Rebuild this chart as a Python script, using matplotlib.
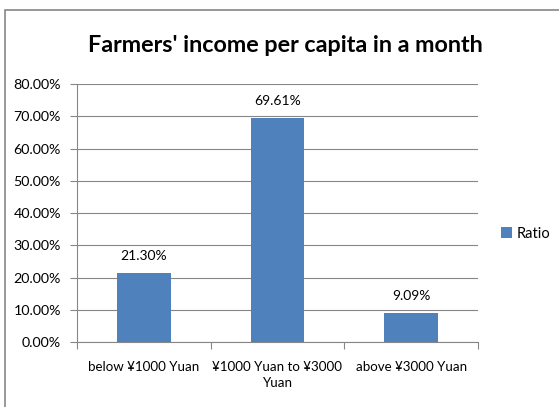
import matplotlib
matplotlib.use('Agg')
import matplotlib.pyplot as plt
from matplotlib.patches import Rectangle
from matplotlib.ticker import FuncFormatter, MultipleLocator

categories = ['below \u00a51000 Yuan', '\u00a51000 Yuan to \u00a53000\nYuan', 'above \u00a53000 Yuan']
ratio = [21.30, 69.61, 9.09]
series_name = 'Ratio'

plt.rcParams['font.family'] = ['Lato', 'DejaVu Sans']

fig = plt.figure(figsize=(5.59, 4.07), dpi=100)
ax = fig.add_axes([0.1377, 0.1597, 0.7174, 0.6339])

# chart border (only top/left visible, rest is cropped)
fig.patches.append(Rectangle((5 / 559, -0.1), 1.2, 1 - 10 / 407 + 0.1, transform=fig.transFigure,
                             fill=False, edgecolor='#868686', lw=1.2))

x = range(len(categories))
bars = ax.bar(x, ratio, width=0.4, color='#4F81BD', label=series_name, zorder=3)
for b, v in zip(bars, ratio):
    ax.text(b.get_x() + b.get_width() / 2, v + 3.4, '%.2f%%' % v, ha='center', va='bottom',
            fontsize=10, color='#000000')

ax.set_xlim(-0.5, 2.5)
ax.set_ylim(0, 80)
ax.yaxis.set_major_locator(MultipleLocator(10))
ax.yaxis.set_major_formatter(FuncFormatter(lambda v, p: '%.2f%%' % v))
ax.grid(axis='y', color='#868686', lw=0.8, zorder=0)

ax.set_xticks([0, 1, 2])
ax.set_xticklabels(categories, fontsize=9.6, linespacing=1.35)
ax.set_xticks([-0.5, 0.5, 1.5, 2.5], minor=True)
ax.tick_params(axis='x', which='major', length=0, pad=14)
ax.tick_params(axis='x', which='minor', length=5, color='#868686', width=0.8)
ax.tick_params(axis='y', length=5, color='#868686', width=0.8, labelsize=10.3, pad=6.5)

for s in ['top', 'right']:
    ax.spines[s].set_visible(False)
for s in ['left', 'bottom']:
    ax.spines[s].set_color('#868686')
    ax.spines[s].set_linewidth(0.8)

fig.text(285 / 559, 1 - 45 / 407, "Farmers' income per capita in a month", fontsize=16.8,
         fontweight='bold', ha='center', va='center')

ax.legend(loc='center left', bbox_to_anchor=(1.025, 0.42), frameon=False, fontsize=10.5,
          handlelength=0.75, handleheight=0.75, handletextpad=0.3)

fig.savefig('out.png', dpi=100)
